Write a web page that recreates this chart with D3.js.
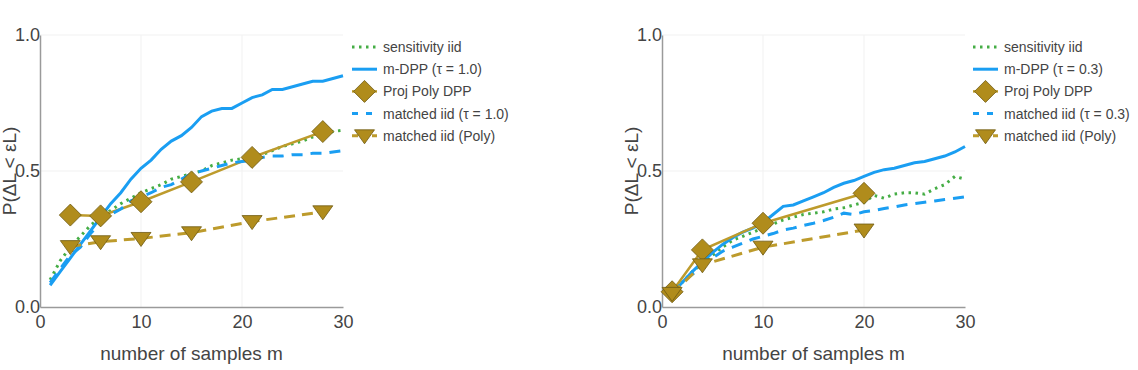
<!DOCTYPE html>
<html><head><meta charset="utf-8">
<script src="https://cdn.jsdelivr.net/npm/d3@7"></script>
<style>body{margin:0;background:#fff;} svg{display:block;font-family:"Liberation Sans",Arial,sans-serif;}</style>
</head><body>
<svg id="chart" width="1138" height="370"></svg>
<script>
const mAll = d3.range(1, 31);
const xTicks = [0, 10, 20, 30];
const yTicks = [0.0, 0.5, 1.0];
const yTickLabels = ["0.0", "0.5", "1.0"];
const xLabel = "number of samples m";
const yLabel = "P(ΔL < εL)";

// Left panel (tau = 1.0)
const leftSens = [0.10,0.17,0.22,0.26,0.30,0.33,0.355,0.38,0.40,0.42,0.435,0.45,0.47,0.48,0.49,0.50,0.52,0.53,0.54,0.545,0.55,0.56,0.575,0.59,0.60,0.61,0.625,0.635,0.645,0.65];
const leftMDPP = [0.08,0.13,0.18,0.23,0.28,0.33,0.38,0.42,0.47,0.51,0.54,0.58,0.61,0.63,0.66,0.70,0.72,0.73,0.73,0.75,0.77,0.78,0.80,0.80,0.81,0.82,0.83,0.83,0.84,0.85];
const leftMatched = [0.09,0.14,0.19,0.22,0.27,0.31,0.34,0.36,0.39,0.405,0.42,0.44,0.45,0.47,0.49,0.50,0.51,0.52,0.53,0.535,0.54,0.55,0.555,0.555,0.56,0.56,0.565,0.565,0.57,0.575];
const leftPolyM = [3, 6, 10, 15, 21, 28];
const leftProjPoly = [0.338, 0.335, 0.387, 0.46, 0.55, 0.645];
const leftMatchedPoly = [0.222, 0.24, 0.252, 0.273, 0.314, 0.35];
const leftLegend = ["sensitivity iid", "m-DPP (τ = 1.0)", "Proj Poly DPP", "matched iid (τ = 1.0)", "matched iid (Poly)"];

// Right panel (tau = 0.3)
const rightSens = [0.05,0.09,0.13,0.16,0.19,0.22,0.245,0.26,0.275,0.29,0.305,0.32,0.33,0.34,0.345,0.35,0.36,0.365,0.375,0.385,0.41,0.40,0.415,0.42,0.42,0.415,0.435,0.45,0.48,0.47];
const rightMDPP = [0.05,0.09,0.13,0.165,0.20,0.23,0.255,0.275,0.29,0.31,0.34,0.37,0.375,0.39,0.405,0.42,0.44,0.455,0.465,0.48,0.495,0.505,0.51,0.52,0.53,0.535,0.545,0.555,0.57,0.59];
const rightMatched = [0.05,0.09,0.12,0.15,0.18,0.205,0.22,0.235,0.25,0.26,0.27,0.283,0.29,0.30,0.308,0.318,0.33,0.345,0.34,0.35,0.355,0.362,0.368,0.375,0.38,0.385,0.39,0.395,0.40,0.405];
const rightPolyM = [1, 4, 10, 20];
const rightProjPoly = [0.056, 0.21, 0.308, 0.418];
const rightMatchedPoly = [0.05, 0.155, 0.22, 0.283];
const rightLegend = ["sensitivity iid", "m-DPP (τ = 0.3)", "Proj Poly DPP", "matched iid (τ = 0.3)", "matched iid (Poly)"];

const C = {green:"#45ad45", blue:"#1a9ef2", gold:"#bd9b2c", goldFill:"#b08c1c", goldEdge:"#6e5a12", axis:"#9a9a9a", grid:"#f1f1f1", text:"#444"};

const svg = d3.select("#chart");

function panel(cfg) {
  const x = d3.scaleLinear().domain([0, 30]).range([cfg.left, cfg.right]);
  const y = d3.scaleLinear().domain([0, 1]).range([307, 35]);
  const g = svg.append("g");

  // grid
  g.selectAll(".gx").data([10, 20]).join("line")
    .attr("x1", d => x(d)).attr("x2", d => x(d)).attr("y1", y(0)).attr("y2", y(1))
    .attr("stroke", C.grid).attr("stroke-width", 1);
  g.selectAll(".gy").data([0.5, 1.0]).join("line")
    .attr("x1", x(0)).attr("x2", x(30)).attr("y1", d => y(d)).attr("y2", d => y(d))
    .attr("stroke", C.grid).attr("stroke-width", 1);

  // axes
  const xa = g.append("g").attr("transform", `translate(0,${y(0)})`)
    .call(d3.axisBottom(x).tickValues(xTicks).tickSize(0).tickPadding(8).tickFormat(d3.format("d")));
  const ya = g.append("g").attr("transform", `translate(${x(0)},0)`)
    .call(d3.axisLeft(y).tickValues(yTicks).tickSize(0).tickPadding(0).tickFormat((d, i) => yTickLabels[i]));
  [xa, ya].forEach(a => {
    a.select(".domain").attr("stroke", C.axis).attr("stroke-width", 1.5);
    a.selectAll("text").attr("fill", C.text).attr("font-size", 18).attr("font-family", '"Liberation Sans",Arial,sans-serif');
  });
  ya.selectAll("text").attr("dy", "0.32em");

  // axis titles
  g.append("text").attr("x", (cfg.left + cfg.right) / 2).attr("y", 360)
    .attr("text-anchor", "middle").attr("font-size", 19).attr("fill", C.text).text(xLabel);
  g.append("text").attr("transform", `translate(${cfg.left - 24},171) rotate(-90)`)
    .attr("text-anchor", "middle").attr("font-size", 19).attr("fill", C.text).text(yLabel);

  const line = d3.line().x(d => x(d[0])).y(d => y(d[1]));
  const zip = (ms, vs) => ms.map((m, i) => [m, vs[i]]);

  g.append("path").datum(zip(mAll, cfg.sens)).attr("d", line).attr("fill", "none")
    .attr("stroke", C.green).attr("stroke-width", 3).attr("stroke-dasharray", "2.5,4.5").attr("stroke-linecap", "butt");
  g.append("path").datum(zip(mAll, cfg.mdpp)).attr("d", line).attr("fill", "none")
    .attr("stroke", C.blue).attr("stroke-width", 3);
  g.append("path").datum(zip(cfg.polyM, cfg.proj)).attr("d", line).attr("fill", "none")
    .attr("stroke", C.gold).attr("stroke-width", 2.5);
  g.append("path").datum(zip(mAll, cfg.matched)).attr("d", line).attr("fill", "none")
    .attr("stroke", C.blue).attr("stroke-width", 3).attr("stroke-dasharray", "11,8");
  g.append("path").datum(zip(cfg.polyM, cfg.mpoly)).attr("d", line).attr("fill", "none")
    .attr("stroke", C.gold).attr("stroke-width", 3).attr("stroke-dasharray", "11,7");

  const diamond = "M0,-11L11,0L0,11L-11,0Z";
  const tri = "M-10,-6L10,-6L0,8Z";
  g.selectAll(".dm").data(zip(cfg.polyM, cfg.proj)).join("path")
    .attr("d", diamond).attr("transform", d => `translate(${x(d[0])},${y(d[1])})`)
    .attr("fill", C.goldFill).attr("stroke", C.goldEdge).attr("stroke-width", 0.8);
  g.selectAll(".tm").data(zip(cfg.polyM, cfg.mpoly)).join("path")
    .attr("d", tri).attr("transform", d => `translate(${x(d[0])},${y(d[1])})`)
    .attr("fill", C.goldFill).attr("stroke", C.goldEdge).attr("stroke-width", 0.8);

  // legend
  const lx = cfg.legendX;
  const styles = [
    {stroke: C.green, w: 3, dash: "2.5,4.5"},
    {stroke: C.blue, w: 3, dash: null},
    {stroke: C.gold, w: 2.5, dash: null, marker: diamond},
    {stroke: C.blue, w: 3, dash: "6,8"},
    {stroke: C.gold, w: 3, dash: "6,4", marker: tri}
  ];
  cfg.legend.forEach((label, i) => {
    const ly = 47 + i * 22.2;
    const s = styles[i];
    g.append("line").attr("x1", lx).attr("x2", lx + 25).attr("y1", ly).attr("y2", ly)
      .attr("stroke", s.stroke).attr("stroke-width", s.w).attr("stroke-dasharray", s.dash);
    if (s.marker) {
      g.append("path").attr("d", s.marker).attr("transform", `translate(${lx + 12.5},${ly})`)
        .attr("fill", C.goldFill).attr("stroke", C.goldEdge).attr("stroke-width", 0.8);
    }
    g.append("text").attr("x", lx + 31).attr("y", ly).attr("dy", "0.35em")
      .attr("font-size", 14).attr("fill", C.text).text(label);
  });
}

panel({left: 40, right: 343, legendX: 352, sens: leftSens, mdpp: leftMDPP, matched: leftMatched,
  polyM: leftPolyM, proj: leftProjPoly, mpoly: leftMatchedPoly, legend: leftLegend});
panel({left: 662, right: 965, legendX: 973, sens: rightSens, mdpp: rightMDPP, matched: rightMatched,
  polyM: rightPolyM, proj: rightProjPoly, mpoly: rightMatchedPoly, legend: rightLegend});
</script>
</body></html>
